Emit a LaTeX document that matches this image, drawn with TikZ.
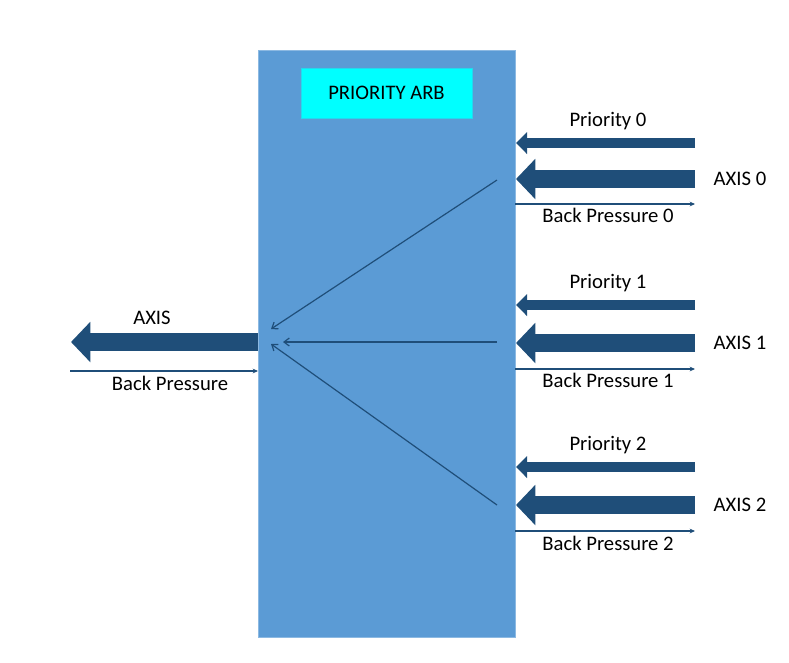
\documentclass[tikz,border=0pt]{standalone}
\usepackage{fontspec}
\setmainfont{Carlito}
\usepackage{tikz}
\usetikzlibrary{arrows.meta,positioning}

\definecolor{arbblue}{HTML}{5B9BD5}
\definecolor{busblue}{HTML}{1F4E79}
\definecolor{titlecyan}{HTML}{00FFFF}

\tikzset{
  prio/.style={busblue, line width=7.5pt, -{Triangle[length=8.25pt,width=16pt]}},
  axis/.style={busblue, line width=13.5pt, -{Triangle[length=14.5pt,width=29.5pt]}},
  bp/.style={busblue, line width=0.9pt, -{Stealth[length=4pt,width=3.5pt]}},
  route/.style={busblue, line width=0.9pt, -{Straight Barb[length=4pt,width=6pt]}},
  lbl/.style={font=\fontsize{15.5}{18}\selectfont, inner sep=0pt}
}

\begin{document}
\begin{tikzpicture}[x=0.75pt, y=-0.75pt]
\useasboundingbox (0,0) rectangle (789,662);

\node[fill=arbblue, draw=arbblue!70!white, line width=0.6pt, minimum width=192.75pt,
      minimum height=440.25pt, inner sep=0pt] (arb) at (386.5,343.5) {};
\node[fill=titlecyan, draw=arbblue!40!titlecyan, line width=0.6pt, minimum width=128.25pt,
      minimum height=37.5pt, inner sep=0pt] (title) at (386.5,93) {};
\node[lbl] at (title) {PRIORITY ARB};

% right side: group 0
\coordinate (p0in) at (695,143);
\coordinate (p0) at (516,143);
\coordinate (a0in) at (695,179);
\coordinate (a0) at (516,179);
\coordinate (b0) at (515,204);
\coordinate (b0out) at (695,204);
\coordinate (r0) at (497,180);
\node[lbl] (prio0) at (608,121) {Priority 0};
\node[lbl] (axis0) at (740,179) {AXIS 0};
\node[lbl] (back0) at (608,215) {Back Pressure 0};

% right side: group 1
\coordinate (p1in) at (695,305);
\coordinate (p1) at (516,305);
\coordinate (a1in) at (695,343);
\coordinate (a1) at (516,343);
\coordinate (b1) at (515,369);
\coordinate (b1out) at (695,369);
\coordinate (r1) at (497,342);
\node[lbl] (prio1) at (608,283) {Priority 1};
\node[lbl] (axis1) at (740,343) {AXIS 1};
\node[lbl] (back1) at (608,380) {Back Pressure 1};

% right side: group 2
\coordinate (p2in) at (695,467);
\coordinate (p2) at (516,467);
\coordinate (a2in) at (695,505);
\coordinate (a2) at (516,505);
\coordinate (b2) at (515,531);
\coordinate (b2out) at (695,531);
\coordinate (r2) at (497,505);
\node[lbl] (prio2) at (608,445) {Priority 2};
\node[lbl] (axis2) at (740,505) {AXIS 2};
\node[lbl] (back2) at (608,543) {Back Pressure 2};

% left side
\coordinate (aout) at (258,342);
\coordinate (atip) at (71,342);
\coordinate (bin) at (70,371);
\coordinate (bend) at (258,371);
\node[lbl] (axisout) at (152,318) {AXIS};
\node[lbl] (backin) at (170,383) {Back Pressure};

% routing inside the arbiter
\coordinate (m0) at (271,329);
\coordinate (m1) at (283,342);
\coordinate (m2) at (271,344);

\draw[prio] (p0in) -- (p0);
\draw[axis] (a0in) -- (a0);
\draw[bp] (b0) -- (b0out);
\draw[prio] (p1in) -- (p1);
\draw[axis] (a1in) -- (a1);
\draw[bp] (b1) -- (b1out);
\draw[prio] (p2in) -- (p2);
\draw[axis] (a2in) -- (a2);
\draw[bp] (b2) -- (b2out);

\draw[axis] (aout) -- (atip);
\draw[bp] (bin) -- (bend);

\draw[route] (r0) -- (m0);
\draw[route] (r1) -- (m1);
\draw[route] (r2) -- (m2);
\end{tikzpicture}
\end{document}
